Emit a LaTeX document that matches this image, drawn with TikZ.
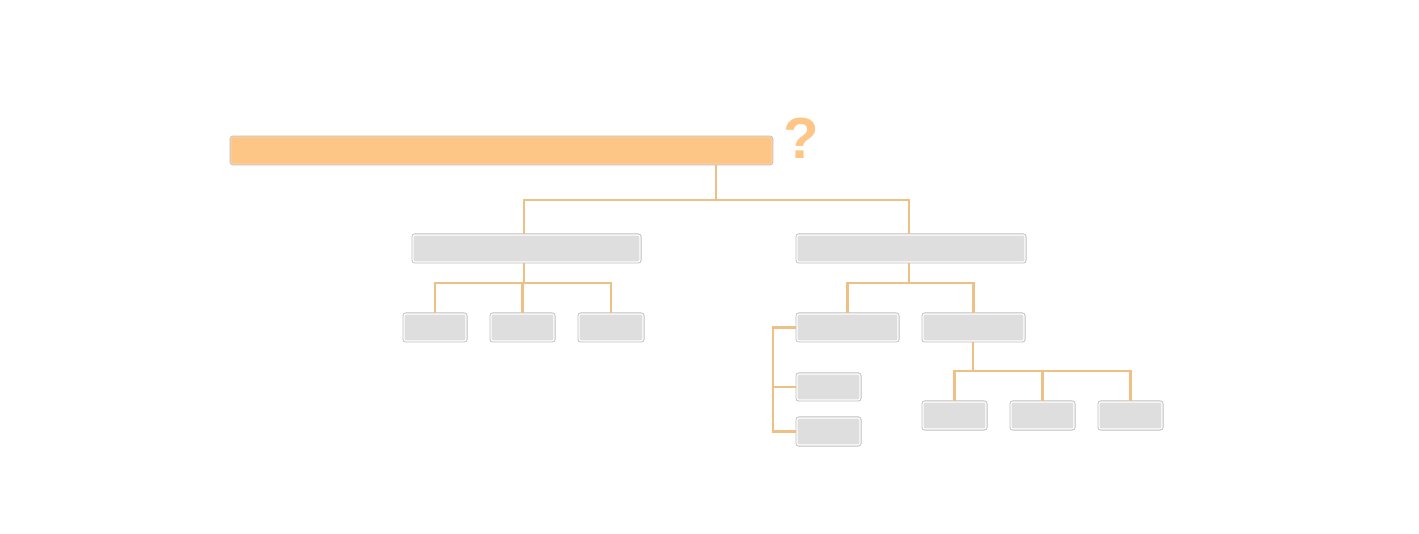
\documentclass[tikz,border=0pt]{standalone}
\usepackage{fontspec}
\setmainfont{Liberation Sans}
\begin{document}
\begin{tikzpicture}[x=1pt,y=-1pt,
  box/.style={fill=boxgray, draw=white, line width=1.2pt, rounded corners=2pt, inner sep=0pt,
    preaction={draw=boxedge, line width=3pt}},
  topbar/.style={fill=barorange, draw=barorange!80!white, line width=1.2pt, rounded corners=2pt, inner sep=0pt,
    preaction={draw=boxedge, line width=2.6pt}},
  link/.style={draw=linkorange, line width=2.5pt},
  qmark/.style={text=barorange, font=\fontsize{58}{58}\selectfont\bfseries, inner sep=0pt}]
\definecolor{boxgray}{HTML}{DEDEDE}
\definecolor{boxedge}{HTML}{BDBDBD}
\definecolor{barorange}{HTML}{FDC586}
\definecolor{linkorange}{HTML}{EFC085}
\useasboundingbox (0,0) rectangle (1419,534);
% connectors first (behind boxes)
\coordinate (j0) at (716,200);
\coordinate (j1) at (524,283);
\coordinate (j2) at (909,283);
\coordinate (j3) at (973,371);
\coordinate (bx) at (773,0);
% boxes
\node[topbar, minimum width=541pt, minimum height=27pt] (root) at (501.5,150.5) {};
\node[qmark] (q) at (801,138) {?};
\node[box, minimum width=227pt, minimum height=27pt] (L1) at (526.5,248.5) {};
\node[box, minimum width=228pt, minimum height=27pt] (R1) at (911,248.5) {};
\node[box, minimum width=62pt, minimum height=27pt] (la) at (435,327.5) {};
\node[box, minimum width=63pt, minimum height=27pt] (lb) at (522.5,327.5) {};
\node[box, minimum width=64pt, minimum height=27pt] (lc) at (611,327.5) {};
\node[box, minimum width=101pt, minimum height=27pt] (ra) at (847.5,327.5) {};
\node[box, minimum width=101pt, minimum height=27pt] (rb) at (973.5,327.5) {};
\node[box, minimum width=63pt, minimum height=26pt] (c1) at (828.5,387) {};
\node[box, minimum width=63pt, minimum height=27pt] (c2) at (828.5,431.5) {};
\node[box, minimum width=63pt, minimum height=27pt] (d1) at (954.5,415.5) {};
\node[box, minimum width=63pt, minimum height=27pt] (d2) at (1042.5,415.5) {};
\node[box, minimum width=63pt, minimum height=27pt] (d3) at (1130.5,415.5) {};
% connectors
\draw[link] (root.south -| j0) -- (j0);
\draw[link] (L1.north -| j1) |- (j0) -| (R1.north -| j2);
\draw[link] (L1.south -| j1) -- (j1);
\draw[link] (la.north) |- (j1) -| (lc.north);
\draw[link] (j1 -| lb.north) -- (lb.north);
\draw[link] (R1.south -| j2) -- (j2);
\draw[link] (ra.north) |- (j2) -| (rb.north);
\draw[link] (rb.south -| j3) -- (j3);
\draw[link] (d1.north) |- (j3) -| (d3.north);
\draw[link] (j3 -| d2.north) -- (d2.north);
\draw[link] (ra.west) -- (ra.west -| bx) -- (c2.west -| bx) -- (c2.west);
\draw[link] (c1.west -| bx) -- (c1.west);
\end{tikzpicture}
\end{document}
